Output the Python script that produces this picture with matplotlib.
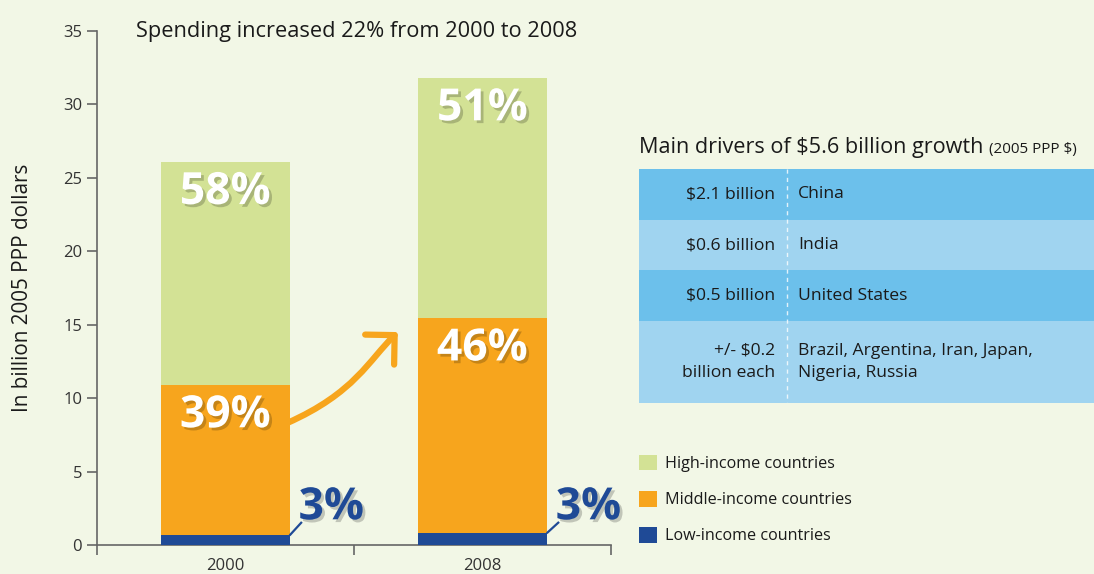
import matplotlib

matplotlib.use("Agg")
import matplotlib.pyplot as plt
import matplotlib.patheffects as pe
from matplotlib.patches import FancyArrowPatch, Rectangle
from matplotlib.path import Path

# data
years = ["2000", "2008"]
low_income = [0.7, 0.85]
middle_income = [10.2, 14.6]
high_income = [15.2, 16.35]
share_low = [3, 3]
share_middle = [39, 46]
share_high = [58, 51]
series_labels = ["High-income countries", "Middle-income countries", "Low-income countries"]

driver_amounts = ["$2.1 billion", "$0.6 billion", "$0.5 billion", "+/- $0.2\nbillion each"]
driver_countries = ["China", "India", "United States", "Brazil, Argentina, Iran, Japan,\nNigeria, Russia"]

BG = "#F2F7E6"
GREEN = "#D3E295"
ORANGE = "#F7A51D"
BLUE = "#1F4A96"
ROW_DARK = "#6CC0EB"
ROW_LIGHT = "#A0D4F0"
TEXT = "#1a1a1a"
AXIS = "#666666"

plt.rcParams["font.family"] = ["Open Sans", "DejaVu Sans"]

W, H = 1094, 574
fig = plt.figure(figsize=(W / 100, H / 100), dpi=100, facecolor=BG)


def px_box(x0, y0, x1, y1):
    return [x0 / W, 1 - y1 / H, (x1 - x0) / W, (y1 - y0) / H]


# ---- stacked bars ----
ax = fig.add_axes(px_box(96.7, 31, 611, 545))
ax.set_facecolor(BG)
x = list(range(len(years)))
bottom_mid = low_income
bottom_high = [a + b for a, b in zip(low_income, middle_income)]
tops = [a + b for a, b in zip(bottom_high, high_income)]

b_low = ax.bar(x, low_income, width=0.5, color=BLUE, zorder=3)
b_mid = ax.bar(x, middle_income, width=0.5, bottom=bottom_mid, color=ORANGE, zorder=3)
b_high = ax.bar(x, high_income, width=0.5, bottom=bottom_high, color=GREEN, zorder=3)

ax.set_xlim(-0.5, 1.5)
ax.set_ylim(0, 35)
ax.set_yticks(range(0, 36, 5))
ax.set_xticks([-0.5, 0.5, 1.5])
ax.set_xticklabels([])
ax.set_xticks(x, minor=True)
ax.set_xticklabels(years, minor=True)
ax.tick_params(axis="x", which="minor", length=0, pad=9, labelsize=12, labelcolor="#333333")
ax.tick_params(axis="both", which="major", length=7, width=1.2, color=AXIS, labelsize=12, labelcolor="#333333")
for side in ("top", "right"):
    ax.spines[side].set_visible(False)
for side in ("left", "bottom"):
    ax.spines[side].set_color(AXIS)
    ax.spines[side].set_linewidth(1.2)

ax.set_ylabel("In billion 2005 PPP dollars", fontsize=14.9, color=TEXT)
ax.yaxis.set_label_coords(-0.124, 0.5)

shadow = [pe.withSimplePatchShadow(offset=(2, -2), shadow_rgbFace="black", alpha=0.2)]
for i in x:
    ax.text(i, tops[i] - 2.1, f"{share_high[i]}%", ha="center", va="center",
            color="white", fontsize=32, fontweight="bold", path_effects=shadow, zorder=5)
    ax.text(i, bottom_high[i] - 2.1, f"{share_middle[i]}%", ha="center", va="center",
            color="white", fontsize=32, fontweight="bold", path_effects=shadow, zorder=5)
    ax.plot([i + 0.25, i + 0.298], [low_income[i] - 0.05, 1.57], color=BLUE, lw=1.6,
            solid_capstyle="butt", zorder=4, clip_on=False)
    ax.text(i + 0.285, 1.0, f"{share_low[i]}%", ha="left", va="bottom",
            color=BLUE, fontsize=32, fontweight="bold", path_effects=shadow, zorder=5,
            clip_on=False)

# curved growth arrow running from the 2000 bar up to the 2008 bar
arrow_path = Path(
    [(0.24, 8.3), (0.504, 10.35), (0.558, 12.59), (0.671, 14.5)],
    [Path.MOVETO, Path.CURVE4, Path.CURVE4, Path.CURVE4],
)
arrow = FancyArrowPatch(path=arrow_path, arrowstyle="->,head_length=0.5,head_width=0.5",
                        mutation_scale=30, color=ORANGE, lw=4.5,
                        capstyle="round", joinstyle="round", zorder=2)
ax.add_patch(arrow)

fig.text(136 / W, 1 - 37 / H, "Spending increased 22% from 2000 to 2008",
         fontsize=15.7, color=TEXT, va="baseline")

# ---- drivers table ----
tab = fig.add_axes(px_box(639, 169, 1094, 403))
tab.set_xlim(0, 455)
tab.set_ylim(234, 0)
tab.axis("off")
row_h = [50.7 if "\n" not in a else 82 for a in driver_amounts]
y0 = 0
for k, (amount, country) in enumerate(zip(driver_amounts, driver_countries)):
    h = row_h[k] * 234 / sum(row_h)
    tab.add_patch(Rectangle((0, y0), 455, h, color=ROW_DARK if k % 2 == 0 else ROW_LIGHT, lw=0))
    tab.text(136, y0 + h / 2, amount, ha="right", va="center", fontsize=12.6,
             color=TEXT, linespacing=1.55, multialignment="right")
    tab.text(159, y0 + h / 2, country, ha="left", va="center", fontsize=12.6,
             color=TEXT, linespacing=1.55)
    y0 += h
tab.plot([148, 148], [0, 234], color="white", lw=1, ls=(0, (3, 3)), alpha=0.8)

t1 = fig.text(639 / W, 1 - 153 / H, "Main drivers of $5.6 billion growth",
              fontsize=15.6, color=TEXT, va="baseline")
tab.annotate("(2005 PPP $)", xy=(1, 0), xycoords=t1, xytext=(4, 0.5),
             textcoords="offset points", fontsize=11, color=TEXT,
             va="bottom", ha="left", annotation_clip=False)

# ---- legend ----
fig.legend(handles=[b_high, b_mid, b_low], labels=series_labels, loc="upper left",
           bbox_to_anchor=(639 / W, 1 - 455 / H), frameon=False, fontsize=11.6,
           handlelength=1.1, handleheight=1.1, handletextpad=0.5, labelspacing=1.17,
           borderpad=0, borderaxespad=0, labelcolor=TEXT)

fig.savefig("out.png", dpi=100, facecolor=BG)
